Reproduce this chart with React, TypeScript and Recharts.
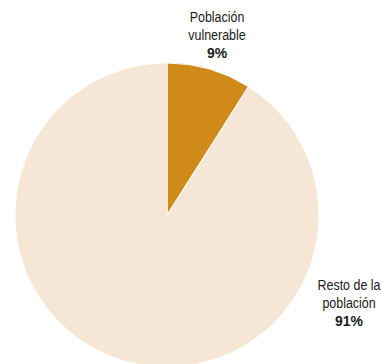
import { PieChart, Pie, Cell } from 'recharts'

const categories = ['Población vulnerable', 'Resto de la población']
const labelLines = [['Población', 'vulnerable'], ['Resto de la', 'población']]
const values = [9, 91]
const colors = ['#D08A19', '#F6E6D5']

const data = categories.map((name, i) => ({ name, value: values[i] }))

// label anchor offsets relative to the pie centre
const labelPos = [
  { dx: 50, dy: -193.5 },
  { dx: 182, dy: 74.5 },
]

const font = "'Liberation Sans', Arial, sans-serif"

const renderLabel = (props: any) => {
  const { cx, cy, index, value } = props
  const p = labelPos[index]
  const x = cx + p.dx
  const y = cy + p.dy
  const line = (t: string, yy: number, bold = false) => (
    <text
      transform={`translate(${x},${yy}) scale(${bold ? 0.93 : 0.83},1)`}
      textAnchor="middle"
      fill="#1a1a1a"
      fontSize={15}
      fontWeight={bold ? 'bold' : 'normal'}
      fontFamily={font}
    >
      {t}
    </text>
  )
  return (
    <g>
      {line(labelLines[index][0], y)}
      {line(labelLines[index][1], y + 18)}
      {line(`${value}%`, y + 36.5, true)}
    </g>
  )
}

export default function App() {
  return (
    <div style={{ position: 'absolute', left: 0, top: 0, width: 382, height: 364, background: '#fff' }}>
      <PieChart width={382} height={364} margin={{ top: 0, right: 0, bottom: 0, left: 0 }}>
        <Pie
          data={data}
          dataKey="value"
          cx={167}
          cy={215}
          outerRadius={152}
          startAngle={90}
          endAngle={-270}
          stroke="#fff"
          strokeWidth={1}
          label={renderLabel}
          labelLine={false}
          isAnimationActive={false}
        >
          {data.map((d, i) => (
            <Cell key={d.name} fill={colors[i]} />
          ))}
        </Pie>
      </PieChart>
    </div>
  )
}
